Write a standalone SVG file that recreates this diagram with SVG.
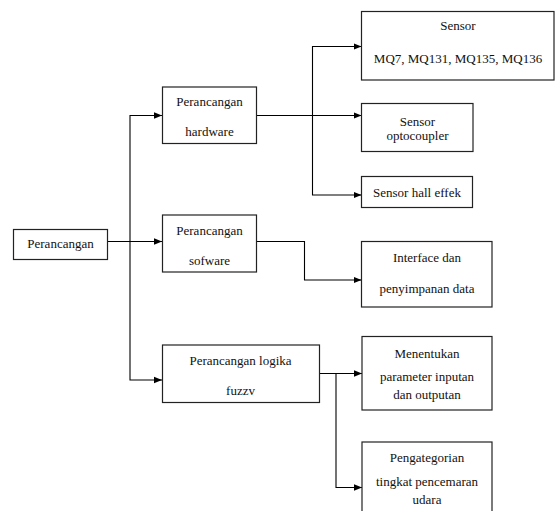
<svg xmlns="http://www.w3.org/2000/svg" width="555" height="511" viewBox="0 0 555 511">
<style>
.box{fill:#fff;stroke:#222;stroke-width:1.2}
.t{font-family:'Liberation Serif','DejaVu Serif','Times New Roman',serif;font-size:13px;fill:#111;text-anchor:middle}
.c{fill:none;stroke:#000;stroke-width:1.1}
</style>
<defs>
<marker id="ah" viewBox="0 0 8 8" refX="8" refY="4" markerWidth="8" markerHeight="8" markerUnits="userSpaceOnUse" orient="auto">
<path d="M0,0.8 L8,4 L0,7.2 Z" fill="#000"/>
</marker>
</defs>
<rect width="555" height="511" fill="#fff"/>
<g id="connectors">
<path class="c" d="M107.5,241.5 H162" marker-end="url(#ah)"/>
<path class="c" d="M130,241.5 V115.5 H162" marker-end="url(#ah)"/>
<path class="c" d="M130,241.5 V380 H162" marker-end="url(#ah)"/>
<path class="c" d="M256.5,115.5 H361.5" marker-end="url(#ah)"/>
<path class="c" d="M312.5,115.5 V46.5 H361.5" marker-end="url(#ah)"/>
<path class="c" d="M312.5,115.5 V195 H361.5" marker-end="url(#ah)"/>
<path class="c" d="M256.5,241.5 H304.5 V280 H361.5" marker-end="url(#ah)"/>
<path class="c" d="M319.5,373.5 H362" marker-end="url(#ah)"/>
<path class="c" d="M336,373.5 V487.5 H362" marker-end="url(#ah)"/>
</g>
<g font-family="Liberation Serif, DejaVu Serif, serif">
<g id="n-perancangan">
<rect class="box" x="13.5" y="229.5" width="94" height="30"/>
<text class="t" x="60.5" y="248">Perancangan</text>
</g>
<g id="n-hardware">
<rect class="box" x="162.5" y="87" width="94" height="56.5"/>
<text class="t" x="209.5" y="106">Perancangan</text>
<text class="t" x="209.5" y="136">hardware</text>
</g>
<g id="n-sofware">
<rect class="box" x="162.5" y="215" width="94" height="57"/>
<text class="t" x="209.5" y="235">Perancangan</text>
<text class="t" x="209.5" y="265">sofware</text>
</g>
<g id="n-fuzzy">
<rect class="box" x="162.5" y="345" width="157" height="57.5"/>
<text class="t" x="240.5" y="365">Perancangan logika</text>
<text class="t" x="240.5" y="395">fuzzv</text>
</g>
<g id="n-mq">
<rect class="box" x="361.5" y="11.5" width="192.5" height="68.5"/>
<text class="t" x="458" y="30">Sensor</text>
<text class="t" x="458" y="63">MQ7, MQ131, MQ135, MQ136</text>
</g>
<g id="n-opto">
<rect class="box" x="361.5" y="103.5" width="111.5" height="48"/>
<text class="t" x="417.5" y="126">Sensor</text>
<text class="t" x="417.5" y="139.5">optocoupler</text>
</g>
<g id="n-hall">
<rect class="box" x="361.5" y="176.5" width="111" height="31"/>
<text class="t" x="417" y="197">Sensor hall effek</text>
</g>
<g id="n-interface">
<rect class="box" x="361.5" y="241.5" width="130.5" height="65.5"/>
<text class="t" x="427" y="262">Interface dan</text>
<text class="t" x="427" y="293">penyimpanan data</text>
</g>
<g id="n-menentukan">
<rect class="box" x="362" y="336.5" width="130" height="73.5"/>
<text class="t" x="427" y="357.5">Menentukan</text>
<text class="t" x="427" y="381">parameter inputan</text>
<text class="t" x="427" y="399">dan outputan</text>
</g>
<g id="n-pengategorian">
<rect class="box" x="362" y="442" width="130" height="80"/>
<text class="t" x="427" y="462">Pengategorian</text>
<text class="t" x="427" y="486">tingkat pencemaran</text>
<text class="t" x="427" y="504">udara</text>
</g>
</g>
</svg>
